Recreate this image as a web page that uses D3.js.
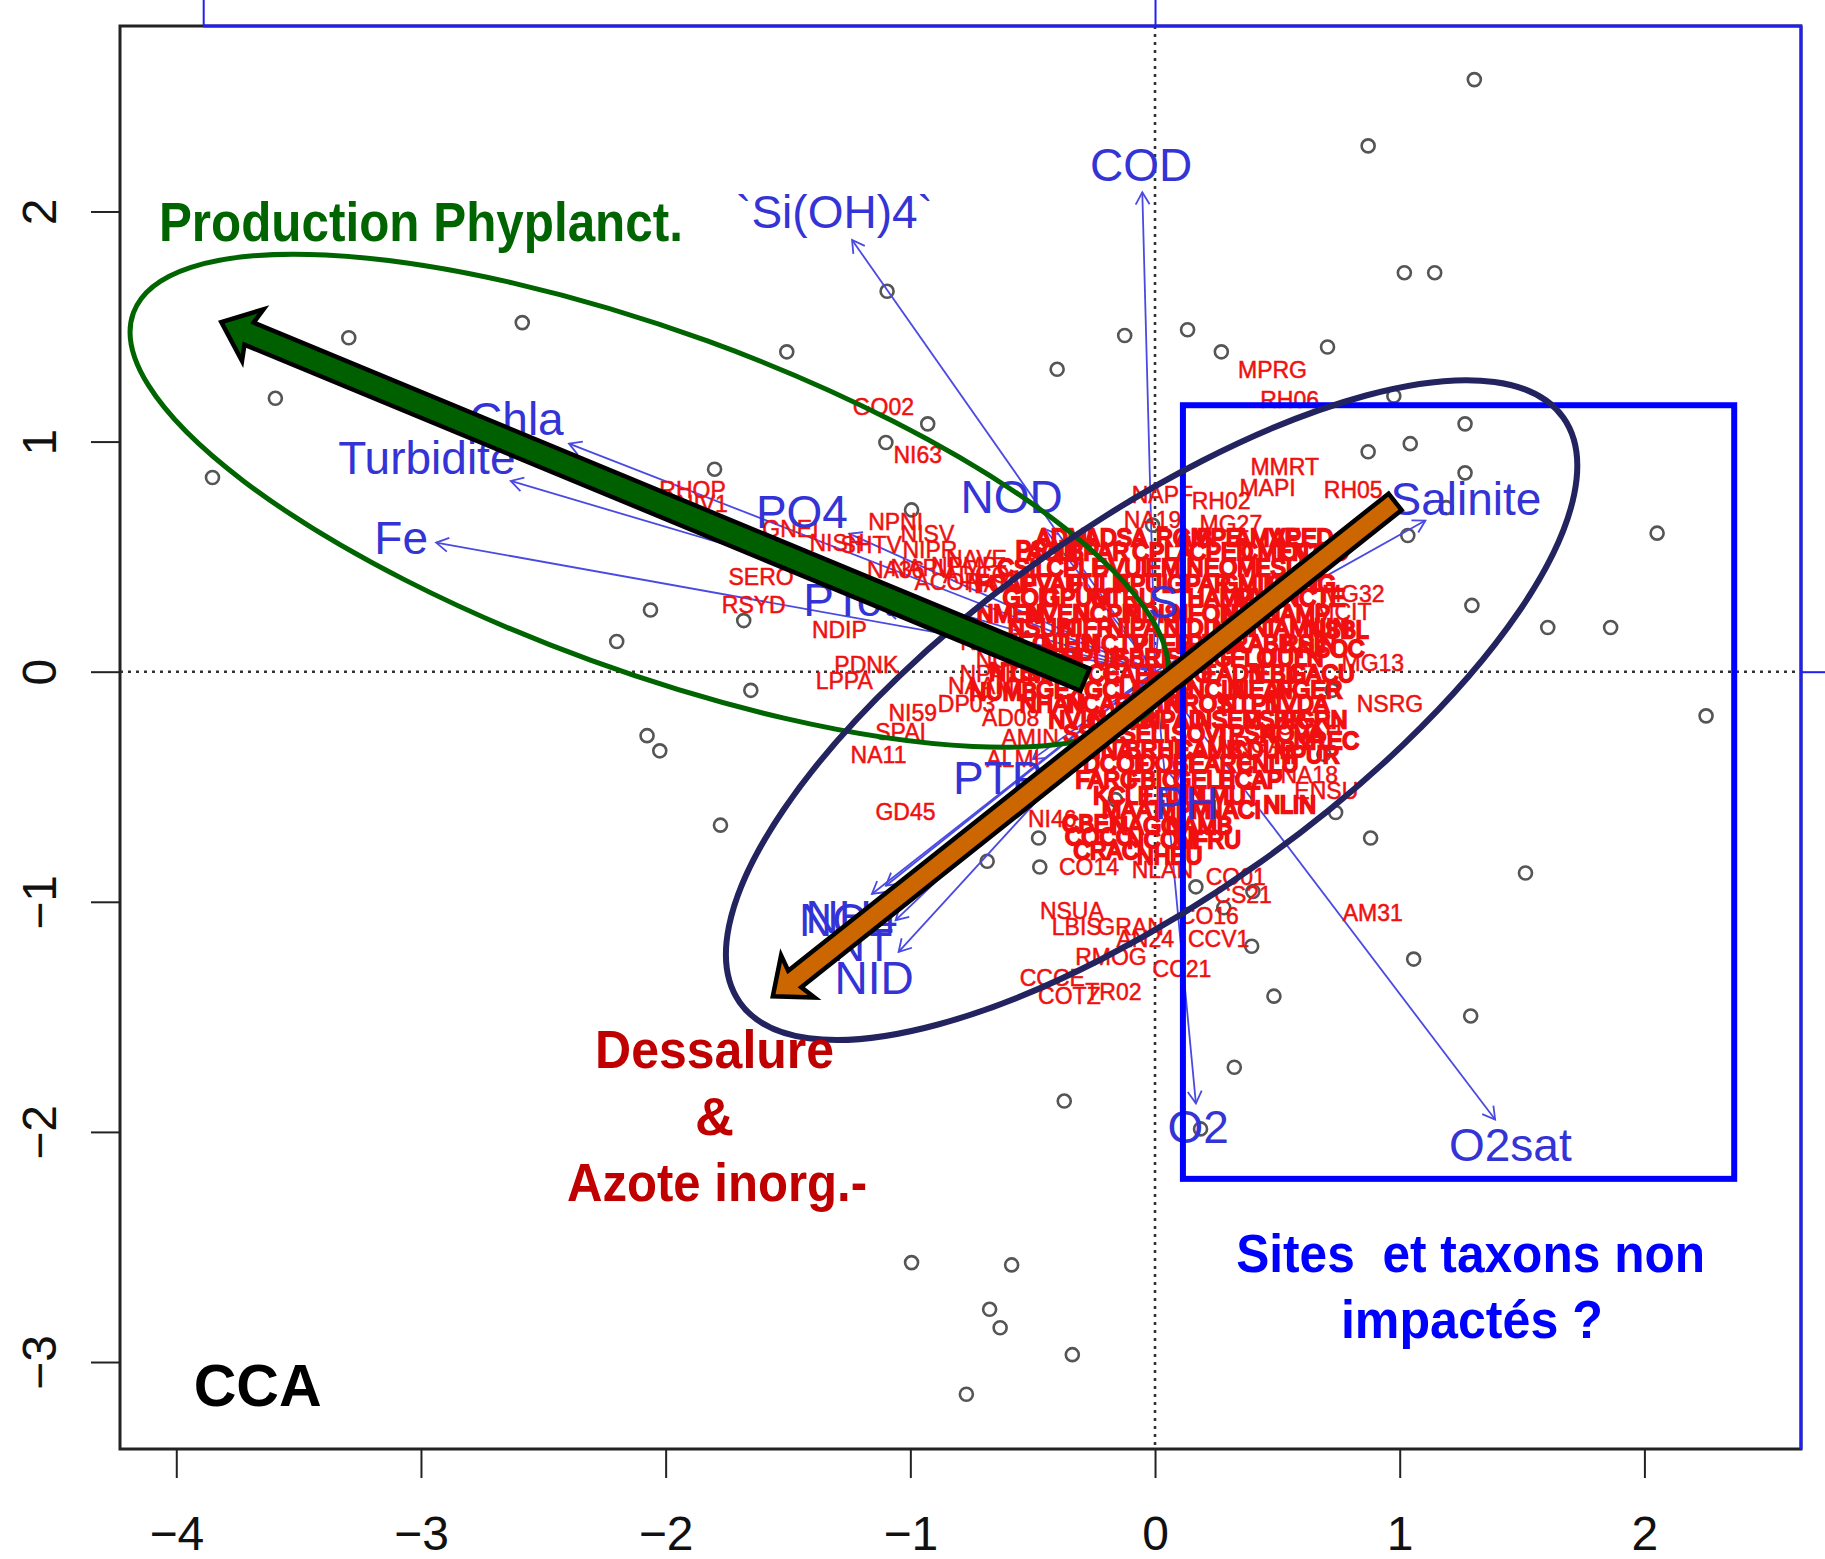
<!DOCTYPE html>
<html>
<head>
<meta charset="utf-8">
<script src="https://cdn.jsdelivr.net/npm/d3@7"></script>
<style>
  body { margin: 0; background: #fff; }
  svg { display: block; }
</style>
</head>
<body>
<script>
// ---- axes (CCA1 x CCA2) ----
const xDomain = [-4.23, 2.64];
const yDomain = [-3.378, 2.806];
const xTicks = [-4, -3, -2, -1, 0, 1, 2];
const yTicks = [-3, -2, -1, 0, 1, 2];
const arrowMul = 3.89;          // biplot scaling used by the top / right axes
const topTicks = [-1, 0];
const rightTicks = [0];

// ---- site scores (grey circles) ----
const sites = [
  [1.305, 2.573], [0.871, 2.285], [1.019, 1.734], [1.143, 1.734], [-2.586, 1.517],
  [-3.295, 1.451], [-3.595, 1.188], [-3.852, 0.844], [-1.505, 1.390], [-1.095, 1.653],
  [-0.40, 1.314], [-0.124, 1.461], [0.133, 1.486], [0.271, 1.390], [0.705, 1.411],
  [0.976, 1.198], [-1.10, 0.996], [-0.929, 1.077], [-1.80, 0.880], [-0.995, 0.703],
  [-2.062, 0.268], [-2.20, 0.131], [-1.681, 0.222], [-1.652, -0.081], [-2.076, -0.278],
  [-2.024, -0.344], [-1.776, -0.667], [0.871, 0.956], [1.043, 0.991], [1.267, 1.077],
  [1.267, 0.864], [1.19, 0.713], [1.033, 0.592], [1.295, 0.288], [1.605, 0.192],
  [1.862, 0.192], [2.052, 0.602], [2.252, -0.192], [1.514, -0.875], [0.881, -0.723],
  [0.738, -0.612], [0.69, -0.359], [1.057, -1.249], [1.29, -1.496], [0.395, -1.193],
  [0.486, -1.41], [0.324, -1.719], [0.186, -1.987], [-0.371, -1.866], [-0.686, -0.824],
  [-0.471, -0.849], [-0.476, -0.723], [-0.995, -2.568], [-0.586, -2.578], [-0.676, -2.771],
  [-0.633, -2.851], [-0.338, -2.968], [-0.771, -3.14], [0.167, -0.935], [0.40, -0.955],
  [0.281, -1.026], [-0.162, -0.556], [0.724, -0.081], [-0.01, 0.637]
];

// ---- species scores, readable ones around the cloud ----
const speciesOuter = [
  ["MPRG", 0.48, 1.31], ["RH06", 0.55, 1.18], ["GO02", -1.11, 1.15], ["NI63", -0.97, 0.94],
  ["MMRT", 0.53, 0.89], ["MAPI", 0.46, 0.80], ["RH05", 0.81, 0.79], ["RH02", 0.27, 0.74],
  ["NAPF", 0.03, 0.77], ["NA19", -0.01, 0.66], ["MG27", 0.31, 0.64], ["NPNI", -1.06, 0.65],
  ["NISV", -0.93, 0.60], ["GNEI", -1.49, 0.62], ["NISH", -1.30, 0.56], ["SHTV", -1.16, 0.55],
  ["RHOP", -1.89, 0.79], ["NIV1", -1.85, 0.73], ["SERO", -1.61, 0.41], ["RSYD", -1.64, 0.29],
  ["NDIP", -1.29, 0.18], ["NA36", -1.06, 0.44], ["NPMP", -0.78, 0.46], ["ADCO", -0.73, 0.42],
  ["LPPA", -1.27, -0.04], ["PDNK", -1.18, 0.03], ["NAAM", -0.71, -0.06], ["NI59", -0.99, -0.18],
  ["DP03", -0.77, -0.14], ["AD08", -0.59, -0.20], ["SPAI", -1.04, -0.26], ["NA11", -1.13, -0.36],
  ["AMIN", -0.51, -0.29], ["ALMI", -0.58, -0.38], ["GD45", -1.02, -0.61], ["NI46", -0.42, -0.64],
  ["CO14", -0.27, -0.85], ["NLAN", 0.03, -0.86], ["NSUA", -0.34, -1.04], ["LBIS", -0.32, -1.11],
  ["GRAN", -0.10, -1.11], ["AN24", -0.04, -1.16], ["RMOG", -0.18, -1.24], ["CCCE", -0.42, -1.33],
  ["COTZ", -0.35, -1.41], ["TR02", -0.17, -1.39], ["CC21", 0.11, -1.29], ["CCV1", 0.26, -1.16],
  ["CO16", 0.22, -1.06], ["CS21", 0.36, -0.97], ["CO01", 0.33, -0.89], ["AM31", 0.89, -1.05],
  ["NSRG", 0.96, -0.14], ["MG13", 0.89, 0.04], ["MG32", 0.81, 0.34], ["MCIT", 0.77, 0.26],
  ["NA18", 0.63, -0.45], ["ENSU", 0.70, -0.52], ["CDXH", 0.63, -0.24], ["NRGA", 0.39, -0.32],
  ["NIPR", -0.92, 0.53], ["NAVE", -0.73, 0.49], ["ACOP", -0.85, 0.39], ["NAMI", -0.65, 0.38],
  ["NAPU", -0.95, 0.45], ["NCRY", -0.60, 0.05], ["NGRE", -0.66, 0.13], ["NPAL", -0.68, -0.01]
];

// ---- species scores, the dense cloud near the origin ----
const speciesCloud = [
  ["ADMI", -0.37, 0.58], ["ADSA", -0.16, 0.58], ["AMPE", 0.22, 0.58], ["AMVE", 0.46, 0.58], ["APED", 0.60, 0.58],
  ["ACLI", -0.42, 0.52], ["BPAR", -0.23, 0.52], ["CPLA", 0.03, 0.52], ["CPED", 0.27, 0.52], ["CMEN", 0.49, 0.52], ["CCOC", 0.65, 0.52],
  ["CSIL", -0.54, 0.45], ["CPLE", -0.32, 0.45], ["DVUL", -0.13, 0.45], ["EMIN", 0.08, 0.45], ["EOMI", 0.32, 0.45], ["ESLE", 0.53, 0.45],
  ["FCAP", -0.61, 0.38], ["FVAU", -0.42, 0.38], ["FULN", -0.23, 0.38], ["FPUL", -0.04, 0.38], ["GPAR", 0.18, 0.38], ["GMIN", 0.39, 0.38], ["GANG", 0.60, 0.38],
  ["GOLI", -0.51, 0.32], ["GPUM", -0.32, 0.32], ["GTRU", -0.13, 0.32], ["HAMP", 0.27, 0.32], ["MVAR", 0.46, 0.32], ["NCTE", 0.65, 0.32],
  ["NMEN", -0.59, 0.25], ["NVEN", -0.40, 0.25], ["NCPR", -0.20, 0.25], ["NDIS", -0.01, 0.25], ["NFON", 0.20, 0.25], ["NINC", 0.39, 0.25], ["NAMP", 0.58, 0.25],
  ["NSUB", -0.47, 0.19], ["NIFR", -0.28, 0.19], ["NIPA", -0.09, 0.19], ["NIDI", 0.13, 0.19], ["NILI", 0.32, 0.19], ["NIAM", 0.51, 0.19], ["NIIN", 0.70, 0.19],
  ["NIFO", -0.54, 0.12], ["NIHU", -0.35, 0.12], ["NCTV", -0.16, 0.12], ["PLFR", 0.03, 0.12], ["PTLA", 0.25, 0.12], ["RABB", 0.44, 0.12], ["RSIN", 0.63, 0.12],
  ["SSEM", -0.44, 0.06], ["SPUP", -0.25, 0.06], ["SBRE", -0.04, 0.06], ["SANG", 0.18, 0.06], ["TFLO", 0.37, 0.06], ["UULN", 0.56, 0.06],
  ["CMIC", -0.47, -0.01], ["COCE", -0.28, -0.01], ["CAFF", -0.09, -0.01], ["EPRO", 0.10, -0.01], ["EADN", 0.32, -0.01], ["EBIL", 0.51, -0.01], ["GACU", 0.68, -0.01],
  ["GEXG", -0.35, -0.08], ["GCLE", -0.16, -0.08], ["MCIR", 0.03, -0.08], ["NCIN", 0.25, -0.08], ["NEAF", 0.44, -0.08], ["NGER", 0.63, -0.08],
  ["NHAN", -0.42, -0.14], ["NCAR", -0.23, -0.14], ["NVIR", -0.01, -0.14], ["NROS", 0.18, -0.14], ["NTPT", 0.39, -0.14], ["NVDA", 0.58, -0.14],
  ["NVIO", -0.32, -0.21], ["NAGR", -0.13, -0.21], ["NPAD", 0.08, -0.21], ["NSEM", 0.30, -0.21], ["PSBR", 0.49, -0.21], ["PGRN", 0.65, -0.21],
  ["SSVE", -0.25, -0.27], ["SELI", -0.04, -0.27], ["SOVI", 0.18, -0.27], ["TPSN", 0.37, -0.27], ["AOVA", 0.56, -0.27],
  ["AINA", -0.20, -0.34], ["BRHE", 0.01, -0.34], ["CAMB", 0.22, -0.34], ["CDUB", 0.44, -0.34],
  ["DCOF", -0.16, -0.40], ["DOBL", 0.06, -0.40], ["EARC", 0.27, -0.40], ["ENLU", 0.46, -0.40],
  ["FARC", -0.20, -0.47], ["FBIC", -0.01, -0.47], ["GELE", 0.20, -0.47], ["HCAP", 0.39, -0.47],
  ["KCLE", -0.13, -0.54], ["LHUN", 0.08, -0.54], ["LMUT", 0.30, -0.54],
  ["MAAT", -0.09, -0.60], ["MPMI", 0.13, -0.60], ["NACI", 0.32, -0.60],
  ["NAGO", -0.04, -0.67], ["NAMB", 0.18, -0.67],
  ["NCOM", 0.03, -0.73], ["NFRU", 0.22, -0.73],
  ["NHEU", 0.06, -0.80],
  ["CBEN", -0.25, -0.66], ["COCC", -0.23, -0.72], ["CRAC", -0.20, -0.78], ["NLIN", 0.55, -0.58],
  ["NPUR", 0.62, -0.36], ["NREC", 0.70, -0.30], ["NSOC", 0.72, 0.10], ["NSBL", 0.75, 0.18],
  ["NTEN", -0.55, 0.00], ["NUMB", -0.62, -0.09], ["PSAT", -0.45, 0.53], ["RGIB", 0.12, 0.58]
];

// ---- environmental variables: name, arrow tip (x, y), label (x, y) ----
const envVars = [
  ["COD", -0.052, 2.083, -0.057, 2.204],
  ["`Si(OH)4`", -1.238, 1.876, -1.31, 1.997],
  ["Chla", -2.395, 0.991, -2.61, 1.097],
  ["Turbidite", -2.633, 0.829, -2.976, 0.930],
  ["Fe", -2.938, 0.561, -3.081, 0.581],
  ["PO4", -1.25, 0.60, -1.443, 0.693],
  ["NOD", -0.45, 0.62, -0.586, 0.758],
  ["PTot", -1.10, 0.27, -1.25, 0.31],
  ["PTP", -0.50, -0.38, -0.643, -0.46],
  ["NH4", -1.157, -0.966, -1.24, -1.065],
  ["NO2", -1.10, -0.93, -1.262, -1.077],
  ["NT", -1.06, -1.08, -1.195, -1.188],
  ["NID", -1.048, -1.218, -1.148, -1.33],
  ["Salinite", 1.105, 0.657, 1.271, 0.753],
  ["O2", 0.167, -1.876, 0.176, -1.977],
  ["O2sat", 1.39, -1.946, 1.452, -2.058],
  ["PH", 0.09, -0.48, 0.129, -0.571],
  ["S", 0.02, 0.27, 0.033, 0.303]
];

// ---- hand-drawn overlays (data coordinates) ----
const greenEllipseCenter = [-2.067, 0.743];
const navyEllipseCenter = [-0.014, -0.167];
const greenArrow = [[-0.286, -0.035], [-3.816, 1.519]];   // tail, tip
const orangeArrow = [[0.981, 0.738], [-1.562, -1.411]];
const sitesBox = [[0.114, 1.158], [2.367, -2.204]];

const notes = [
  // text, x, y, colour, anchor, width (px), size (px)
  ["Production Phyplanct.", -4.071, 1.871, "#006400", "start", 524, 56],
  ["Dessalure", -1.80, -1.724, "#c00000", "middle", 239, 54],
  ["&", -1.80, -2.012, "#c00000", "middle", 0, 54],
  ["Azote inorg.-", -1.79, -2.30, "#c00000", "middle", 300, 54],
  ["Sites  et taxons non", 1.29, -2.609, "#0000ff", "middle", 469, 54],
  ["impactés ?", 1.295, -2.897, "#0000ff", "middle", 262, 54],
  ["CCA", -3.929, -3.19, "#000000", "start", 128, 60]
];

const width = 1825, height = 1559;
const pLeft = 120, pRight = 1801, pTop = 26, pBottom = 1449;

const svg = d3.select("body").append("svg")
  .attr("width", width)
  .attr("height", height)
  .style("background-color", "white");

const x = d3.scaleLinear().domain(xDomain).range([pLeft, pRight]);
const y = d3.scaleLinear().domain(yDomain).range([pBottom, pTop]);
const x2 = d3.scaleLinear().domain(xDomain.map(d => d / arrowMul)).range([pLeft, pRight]);
const y2 = d3.scaleLinear().domain(yDomain.map(d => d / arrowMul)).range([pBottom, pTop]);

const sans = "'Liberation Sans', Arial, Helvetica, sans-serif";
const narrow = "'Liberation Sans Narrow', 'Liberation Sans', Arial, sans-serif";

// dotted zero lines
svg.append("line")
  .attr("x1", x(0)).attr("x2", x(0)).attr("y1", pTop).attr("y2", pBottom)
  .attr("stroke", "#333").attr("stroke-width", 2.6).attr("stroke-dasharray", "3,5");
svg.append("line")
  .attr("x1", pLeft).attr("x2", pRight).attr("y1", y(0)).attr("y2", y(0))
  .attr("stroke", "#333").attr("stroke-width", 2.6).attr("stroke-dasharray", "3,5");

// sites
svg.append("g").selectAll("circle")
  .data(sites)
  .enter().append("circle")
  .attr("cx", d => x(d[0]))
  .attr("cy", d => y(d[1]))
  .attr("r", 6.5)
  .attr("fill", "none")
  .attr("stroke", "#555")
  .attr("stroke-width", 2.6);

// env arrows
const arrowG = svg.append("g").attr("stroke", "#4a4ae2").attr("stroke-width", 1.8).attr("fill", "none");
envVars.forEach(d => {
  const x0 = x(0), y0 = y(0), x1 = x(d[1]), y1 = y(d[2]);
  arrowG.append("line").attr("x1", x0).attr("y1", y0).attr("x2", x1).attr("y2", y1);
  const a = Math.atan2(y1 - y0, x1 - x0), len = 14, spread = Math.PI / 6;
  arrowG.append("path")
    .attr("d", `M${x1 - len * Math.cos(a - spread)},${y1 - len * Math.sin(a - spread)}L${x1},${y1}L${x1 - len * Math.cos(a + spread)},${y1 - len * Math.sin(a + spread)}`);
});

// species labels (outer ones readable, the cloud ones thickened into a mass)
function speciesText(data, strokeW) {
  svg.append("g").selectAll("text")
    .data(data)
    .enter().append("text")
    .attr("x", d => x(d[1]))
    .attr("y", d => y(d[2]))
    .attr("dy", "0.35em")
    .attr("text-anchor", "middle")
    .attr("font-family", sans)
    .attr("font-size", 23)
    .attr("fill", "#f01010")
    .attr("stroke", "#f01010")
    .attr("stroke-width", strokeW)
    .text(d => d[0]);
}
speciesText(speciesOuter, 0.5);
speciesText(speciesCloud, 2.4);

// env labels
svg.append("g").selectAll("text")
  .data(envVars)
  .enter().append("text")
  .attr("x", d => x(d[3]))
  .attr("y", d => y(d[4]))
  .attr("dy", "0.35em")
  .attr("text-anchor", "middle")
  .attr("font-family", sans)
  .attr("font-size", 46)
  .attr("fill", "#3434d6")
  .text(d => d[0]);

// bottom axis
const gx = svg.append("g")
  .attr("transform", `translate(0,${pBottom})`)
  .call(d3.axisBottom(x).tickValues(xTicks).tickFormat(d3.format("d")).tickSize(29).tickSizeOuter(0));
gx.select(".domain").remove();
gx.selectAll(".tick line").attr("stroke", "#222").attr("stroke-width", 2);
gx.selectAll(".tick text")
  .attr("y", 101).attr("dy", 0)
  .attr("font-family", sans).attr("font-size", 48).attr("fill", "#111");

// left axis
const gy = svg.append("g")
  .attr("transform", `translate(${pLeft},0)`)
  .call(d3.axisLeft(y).tickValues(yTicks).tickFormat(d3.format("d")).tickSize(29).tickSizeOuter(0));
gy.select(".domain").remove();
gy.selectAll(".tick line").attr("stroke", "#222").attr("stroke-width", 2);
gy.selectAll(".tick text")
  .attr("x", 0).attr("dy", 0)
  .attr("text-anchor", "middle")
  .attr("transform", "translate(-64,0) rotate(-90)")
  .attr("font-family", sans).attr("font-size", 48).attr("fill", "#111");

// plot box
svg.append("rect")
  .attr("x", pLeft).attr("y", pTop)
  .attr("width", pRight - pLeft).attr("height", pBottom - pTop)
  .attr("fill", "none").attr("stroke", "#222").attr("stroke-width", 3);

// biplot axes (top / right, blue)
const gTop = svg.append("g")
  .attr("transform", `translate(0,${pTop})`)
  .call(d3.axisTop(x2).tickValues(topTicks).tickSize(30).tickFormat(""));
gTop.select(".domain").remove();
gTop.selectAll(".tick line").attr("stroke", "#2020f0").attr("stroke-width", 2);
svg.append("line")
  .attr("x1", x2(topTicks[0])).attr("x2", pRight + 1).attr("y1", pTop).attr("y2", pTop)
  .attr("stroke", "#2020f0").attr("stroke-width", 3);

const gRight = svg.append("g")
  .attr("transform", `translate(${pRight},0)`)
  .call(d3.axisRight(y2).tickValues(rightTicks).tickSize(30).tickFormat(""));
gRight.select(".domain").remove();
gRight.selectAll(".tick line").attr("stroke", "#2020f0").attr("stroke-width", 2);
svg.append("line")
  .attr("x1", pRight).attr("x2", pRight).attr("y1", pTop).attr("y2", pBottom)
  .attr("stroke", "#2020f0").attr("stroke-width", 3);

// ---- overlays ----
svg.append("rect")
  .attr("x", x(sitesBox[0][0])).attr("y", y(sitesBox[0][1]))
  .attr("width", x(sitesBox[1][0]) - x(sitesBox[0][0]))
  .attr("height", y(sitesBox[1][1]) - y(sitesBox[0][1]))
  .attr("fill", "none").attr("stroke", "#0000ff").attr("stroke-width", 6);

svg.append("ellipse")
  .attr("cx", 0).attr("cy", 0).attr("rx", 549).attr("ry", 170)
  .attr("transform", `translate(${x(greenEllipseCenter[0])},${y(greenEllipseCenter[1])}) rotate(20)`)
  .attr("fill", "none").attr("stroke", "#006400").attr("stroke-width", 5);

svg.append("ellipse")
  .attr("cx", 0).attr("cy", 0).attr("rx", 505).attr("ry", 187)
  .attr("transform", `translate(${x(navyEllipseCenter[0])},${y(navyEllipseCenter[1])}) rotate(-35.4)`)
  .attr("fill", "none").attr("stroke", "#22235f").attr("stroke-width", 6);

function bigArrow(ends, w, hw, hl, back, fill) {
  const x0 = x(ends[0][0]), y0 = y(ends[0][1]);
  const x1 = x(ends[1][0]), y1 = y(ends[1][1]);
  const L = Math.hypot(x1 - x0, y1 - y0);
  const ux = (x1 - x0) / L, uy = (y1 - y0) / L, nx = -uy, ny = ux;
  const bx = x1 - ux * hl, by = y1 - uy * hl;
  const pts = [
    [x0 + nx * w, y0 + ny * w],
    [bx + nx * w, by + ny * w],
    [bx + nx * hw - ux * back, by + ny * hw - uy * back],
    [x1, y1],
    [bx - nx * hw - ux * back, by - ny * hw - uy * back],
    [bx - nx * w, by - ny * w],
    [x0 - nx * w, y0 - ny * w]
  ];
  svg.append("polygon")
    .attr("points", pts.map(p => p.join(",")).join(" "))
    .attr("fill", fill)
    .attr("stroke", "#000")
    .attr("stroke-width", 4.5)
    .attr("stroke-linejoin", "miter");
}
bigArrow(greenArrow, 12, 28, 30, 4, "#006000");
bigArrow(orangeArrow, 10.5, 27, 28, 4, "#cc6600");

// annotation texts
notes.forEach(n => {
  const t = svg.append("text")
    .attr("x", x(n[1])).attr("y", y(n[2]))
    .attr("text-anchor", n[4])
    .attr("font-family", narrow)
    .attr("font-weight", "bold")
    .attr("font-size", n[6])
    .attr("fill", n[3])
    .style("white-space", "pre")
    .text(n[0]);
  if (n[5] > 0) t.attr("textLength", n[5]).attr("lengthAdjust", "spacingAndGlyphs");
});
</script>
</body>
</html>
